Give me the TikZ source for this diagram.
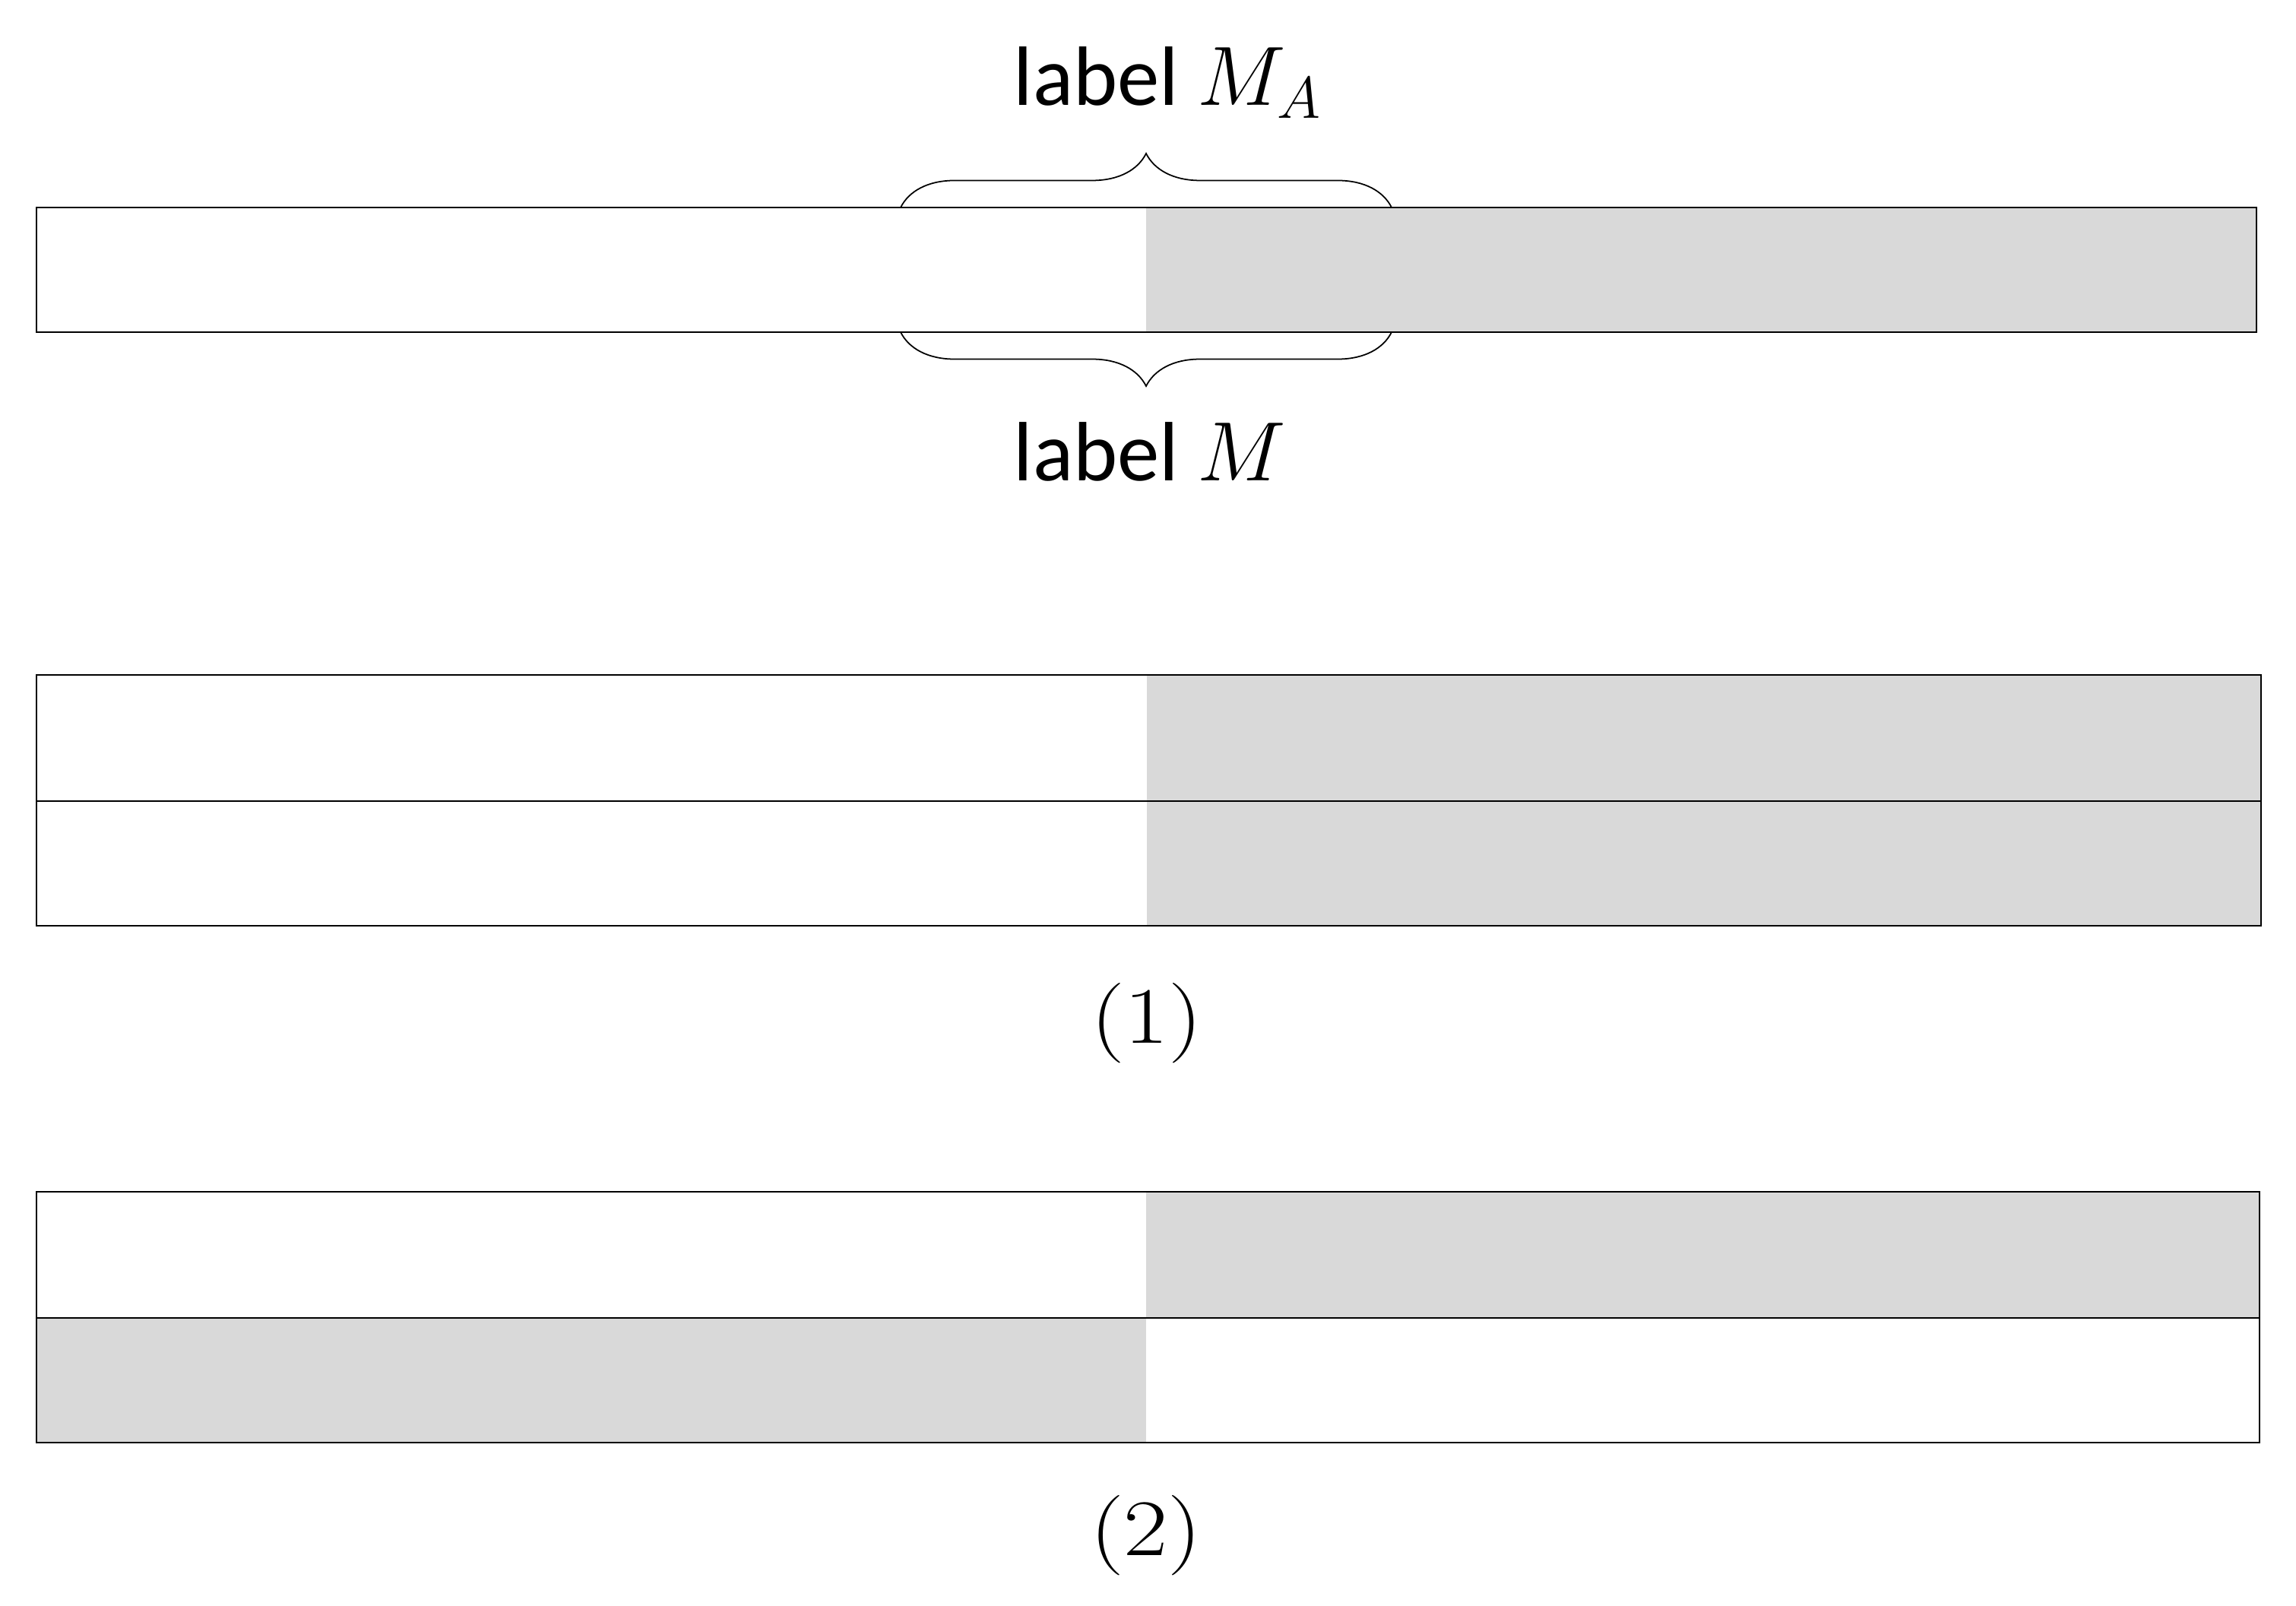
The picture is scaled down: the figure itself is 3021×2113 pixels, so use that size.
\RequirePackage{fix-cm}
\documentclass[tikz,border=0pt]{standalone}
\usepackage{fontspec}
\setmainfont{Carlito}
\usetikzlibrary{decorations.pathreplacing}
\definecolor{barfill}{HTML}{D9D9D9}
\begin{document}
\begin{tikzpicture}[x=0.01cm,y=-0.01cm,
  bar/.style={draw=black, line width=0.75pt},
  shade/.style={fill=barfill},
  bracedec/.style={decorate, decoration={brace, amplitude=0.71cm}, line width=0.5pt},
  lbl/.style={inner sep=0pt, font=\fontsize{31.5}{38}\selectfont},
  num/.style={inner sep=0pt, font=\fontsize{30}{36}\selectfont}]
\useasboundingbox (0,0) rectangle (3021,2113);
% ---- top bar
\coordinate (T-nw) at (48,273);
\coordinate (T-se) at (2969,437);
\coordinate (T-split) at (1508,273);
\fill[shade] (T-split) rectangle (T-se);
\draw[bar] (T-nw) rectangle (T-se);
% braces
\coordinate (bTL) at (1185,273);
\coordinate (bTR) at (1831,273);
\coordinate (bBL) at (1185,437);
\coordinate (bBR) at (1831,437);
\draw[bracedec] (bTL) -- (bTR);
\draw[bracedec] (bBR) -- (bBL);
\node[lbl, anchor=base west] (lMA) at (1333,139) {label $M_A$};
\node[lbl, anchor=base west] (lM) at (1333,633) {label $M$};
% ---- group (1)
\coordinate (A-nw) at (48,888);
\coordinate (A-se) at (2975,1218);
\coordinate (A-split) at (1509,888);
\coordinate (A-ml) at (48,1054);
\coordinate (A-mr) at (2975,1054);
\fill[shade] (A-split) rectangle (A-se);
\draw[bar] (A-nw) rectangle (A-se);
\draw[bar] (A-ml) -- (A-mr);
\node[num, anchor=base] (c1) at (1509,1372) {\scalebox{1.2}[1]{$(1)$}};
% ---- group (2)
\coordinate (B-nw) at (48,1568);
\coordinate (B-se) at (2973,1898);
\coordinate (B-split) at (1508,1568);
\coordinate (B-ml) at (48,1734);
\coordinate (B-mr) at (2973,1734);
\coordinate (B-mid) at (1508,1734);
\coordinate (B-bot) at (1508,1898);
\fill[shade] (B-split) rectangle (B-mr);
\fill[shade] (B-ml) rectangle (B-bot);
\draw[bar] (B-nw) rectangle (B-se);
\draw[bar] (B-ml) -- (B-mr);
\node[num, anchor=base] (c2) at (1508,2046) {\scalebox{1.2}[1]{$(2)$}};
\end{tikzpicture}
\end{document}
